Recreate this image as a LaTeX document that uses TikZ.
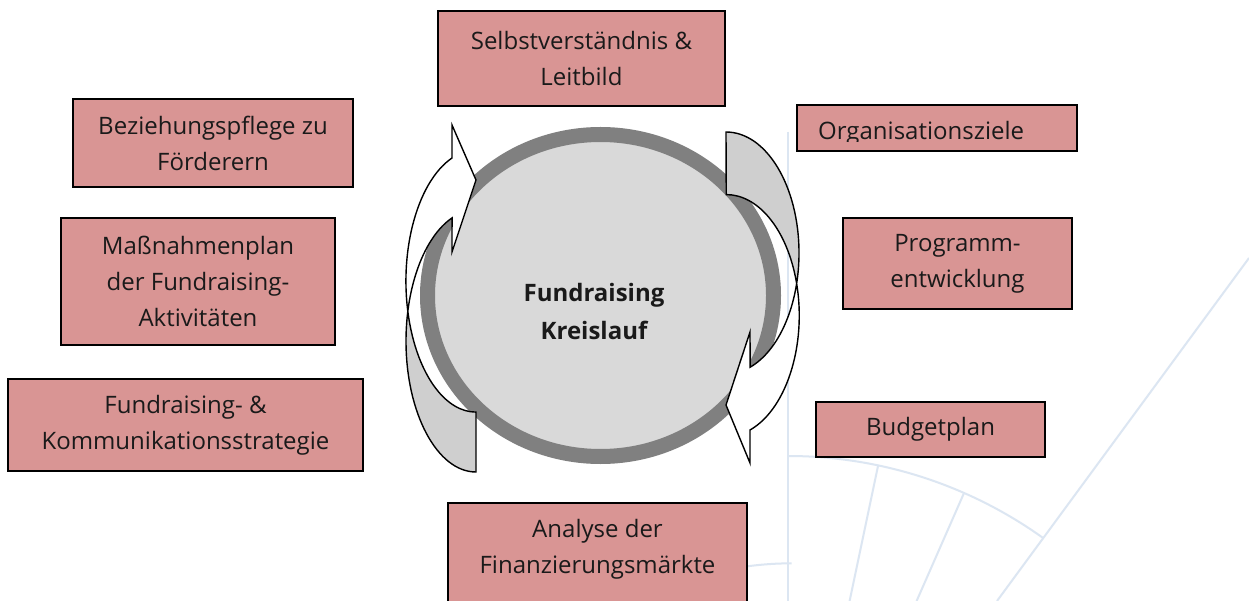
\documentclass[tikz,border=0pt]{standalone}
\usepackage{fontspec}
\setmainfont{Open Sans}
\usetikzlibrary{calc,shapes.geometric}
\definecolor{boxfill}{HTML}{D99594}
\definecolor{bgcol}{HTML}{DCE6F2}
\definecolor{ringcol}{HTML}{808080}
\definecolor{discfill}{HTML}{D9D9D9}
\definecolor{lobefill}{HTML}{CFCFCF}
\definecolor{txtcol}{HTML}{1A1A1A}
\begin{document}
\begin{tikzpicture}[x=1pt,y=-1pt,
  box/.style={draw=black, line width=1.6pt, fill=boxfill, inner sep=0pt, align=center,
    font=\fontsize{24}{36}\selectfont, text=txtcol},
  txt/.style={inner sep=0pt, align=center, font=\fontsize{24}{36}\selectfont, text=txtcol},
  bgline/.style={draw=bgcol, line width=2pt},
  arrowline/.style={draw=black, line width=1.4pt, line join=miter},
]
\useasboundingbox (0,0) rectangle (1249,601);
\fill[white] (0,0) rectangle (1249,601);

% faint background lines
\coordinate (vtop) at (788,132);
\coordinate (vbot) at (788,601);
\draw[bgline] (vtop) -- (vbot);
\coordinate (arcA) at (788,456);
\draw[bgline] (arcA) arc[start angle=-90, end angle=-54.4, radius=438];
\coordinate (r1a) at (878,466); \coordinate (r1b) at (849.6,601);
\coordinate (r2a) at (964,493); \coordinate (r2b) at (916.6,601);
\coordinate (dga) at (1249,258); \coordinate (dgb) at (997,601);
\draw[bgline] (r1a) -- (r1b);
\draw[bgline] (r2a) -- (r2b);
\draw[bgline] (dga) -- (dgb);
\coordinate (sarc) at (740,567.4);
\draw[bgline] (sarc) arc[start angle=-99, end angle=-90, radius=330];

% central disc
\node[ellipse, draw=ringcol, fill=discfill, line width=15pt, inner sep=0pt,
  minimum width=346, minimum height=322] (disc) at (600.5,295.5) {};
\node[inner sep=0pt, align=center, font=\fontsize{24}{38}\bfseries, text=txtcol] (kreis) at (594,311) {Fundraising\\Kreislauf};

% left curved arrow
\def\leftarrowpath{(452,158) arc[start angle=250, end angle=90, x radius=70, y radius=131]
  -- (476,472) arc[start angle=90, end angle=250, x radius=70, y radius=131]
  -- (452,252) -- (476,180) -- (452,125) -- cycle}
\fill[white] \leftarrowpath;
\begin{scope}
  \clip (380,311) rectangle (500,490);
  \fill[lobefill] \leftarrowpath;
\end{scope}
\draw[arrowline] \leftarrowpath;

% right curved arrow
\def\rightarrowpath{(726,132) arc[start angle=-90, end angle=70.7, x radius=73, y radius=121]
  -- (750,332) -- (726,405) -- (750,463) -- (750,430)
  arc[start angle=71, end angle=-90, x radius=73, y radius=121] -- cycle}
\fill[white] \rightarrowpath;
\begin{scope}
  \clip (700,100) rectangle (820,284.3);
  \fill[lobefill] \rightarrowpath;
\end{scope}
\draw[arrowline] \rightarrowpath;

% boxes
\node[box, minimum width=287, minimum height=95] (self) at (581.5,58.5) {Selbstverständnis \&\\Leitbild};
\node[box, minimum width=280, minimum height=46] (org) at (937,128) {};
\begin{scope}
  \clip (798,106) rectangle (1076,142);
  \node[txt, anchor=base west] (orgtext) at (818,140) {Organisationsziele};
\end{scope}
\node[box, minimum width=229, minimum height=91] (prog) at (957.5,263.5) {Programm-\\entwicklung};
\node[box, minimum width=229, minimum height=55] (budget) at (930.5,429.5) {Budgetplan};
\node[box, anchor=north, minimum width=299, minimum height=115] (ana) at (597.5,502) {};
\node[txt] (anatext) at ($(ana.north)+(0,47)$) {Analyse der\\Finanzierungsmärkte};
\node[box, minimum width=280, minimum height=88] (bez) at (213,143) {Beziehungspflege zu\\Förderern};
\node[box, minimum width=274, minimum height=127] (mass) at (198,281.5) {Maßnahmenplan\\der Fundraising-\\Aktivitäten};
\node[box, minimum width=355, minimum height=92] (fk) at (185.5,425) {Fundraising- \&\\Kommunikationsstrategie};
\end{tikzpicture}
\end{document}
